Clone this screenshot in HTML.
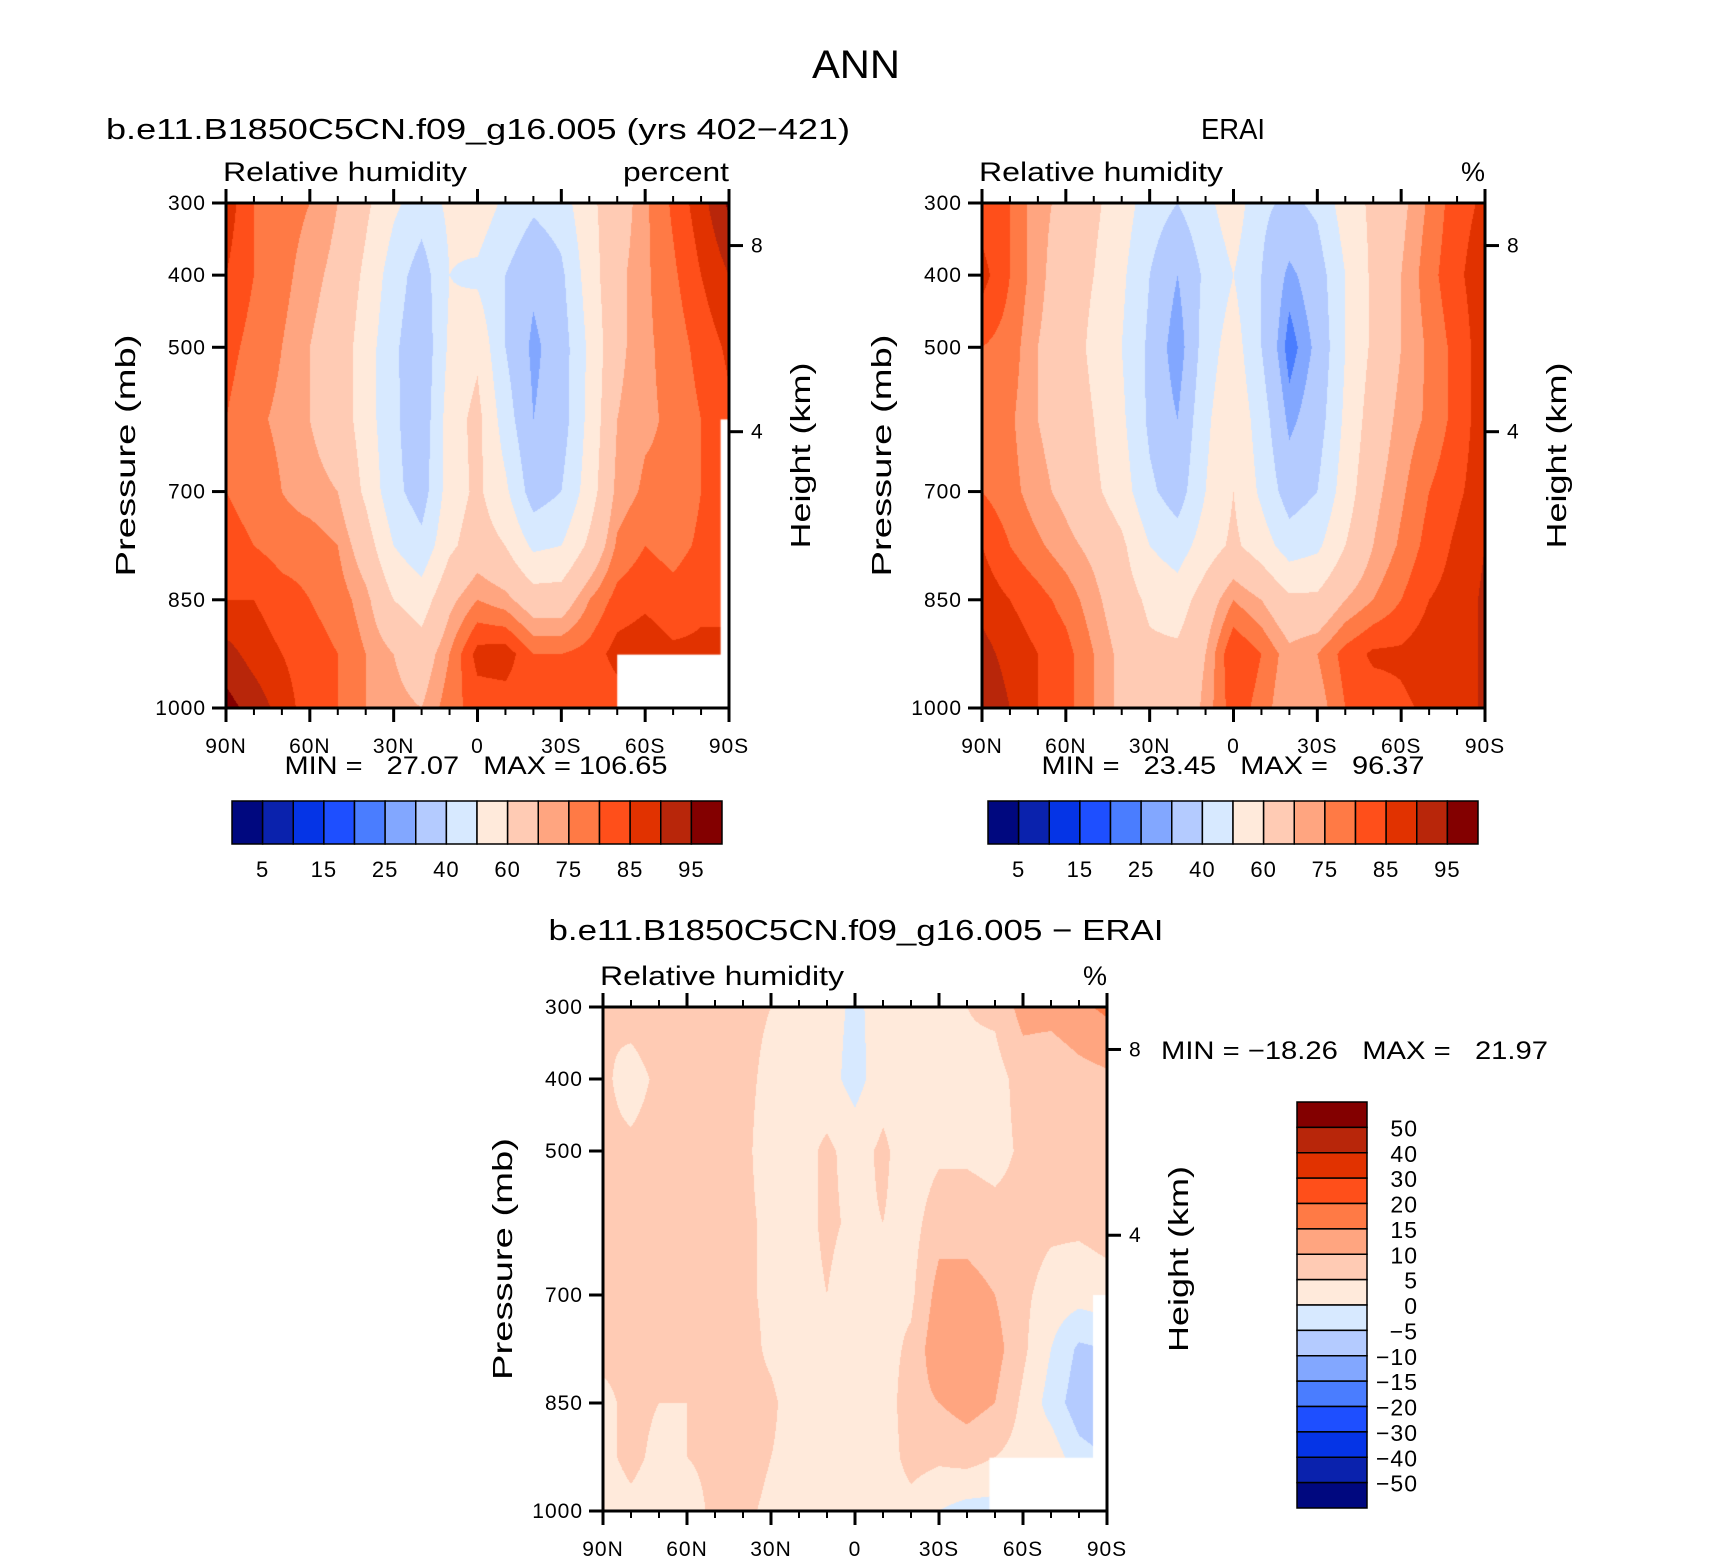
<!DOCTYPE html>
<html><head><meta charset="utf-8">
<style>
html,body{margin:0;padding:0;background:#fff;}
#wrap{position:relative;width:1710px;height:1561px;overflow:hidden;font-family:"Liberation Sans",sans-serif;}
canvas{position:absolute;}
svg{position:absolute;left:0;top:0;}
text{font-family:"Liberation Sans",sans-serif;fill:#000;}
</style></head>
<body>
<div id="wrap">
<canvas id="c1"></canvas>
<canvas id="c2"></canvas>
<canvas id="c3"></canvas>
<svg id="ov" width="1710" height="1561"></svg>
</div>
<script>
// ---- data ----
const lats = [90,80,70,60,50,40,30,20,10,0,-10,-20,-30,-40,-50,-60,-70,-80,-90];
const pressures = [300,400,500,600,700,775,850,925,1000];
const modelRH = [
[88,85,82,80,80,82,85,92,97],
[80,80,78,76,78,80,85,88,93],
[78,77,75,74,75,78,82,85,88],
[75,72,70,70,72,78,80,82,82],
[70,68,66,66,70,75,78,80,80],
[62,58,55,55,58,65,72,75,75],
[52,45,42,42,43,50,60,70,72],
[45,35,32,33,35,43,55,65,70],
[52,50,52,55,55,58,68,75,78],
[56,48,58,63,62,65,75,87,82],
[48,40,40,45,52,60,72,88,82],
[42,32,28,30,35,48,65,80,82],
[45,38,35,35,40,50,65,80,80],
[58,55,52,53,55,62,75,82,80],
[65,68,68,70,72,76,82,87,82],
[74,74,74,74,76,80,84,88,86],
[81,79,77,76,76,78,82,86,86],
[88,85,82,80,80,81,84,86,86],
[96,90,86,84,82,82,84,86,86]];
const eraiRH = [
[82,87,80,78,80,85,88,92,95],
[80,80,78,76,77,80,85,88,90],
[72,72,70,70,72,76,82,85,85],
[68,65,65,66,68,72,78,82,82],
[62,60,58,60,62,68,72,75,75],
[55,52,50,52,55,62,65,68,68],
[45,40,38,38,42,50,58,62,62],
[40,30,25,30,35,45,55,62,62],
[47,42,45,48,50,55,65,70,72],
[56,50,55,58,60,62,75,85,83],
[42,40,40,45,48,55,70,80,78],
[38,28,22,28,35,45,62,72,70],
[42,35,32,35,40,48,62,75,72],
[55,50,50,52,55,60,70,82,80],
[62,62,62,65,68,70,75,86,82],
[68,70,70,72,74,76,80,86,84],
[76,78,76,76,80,82,85,88,86],
[83,84,82,82,84,86,87,87,87],
[86,88,88,88,88,90,91,91,91]];
const diffRH = [
[5,6,6,6,6,6,4,4,3],
[7,3,6,6,6,6,6,6,4],
[8,6,7,7,6,6,5,4,3],
[8,8,8,7,6,6,5,5,3],
[7,7,7,7,7,7,6,6,6],
[6,6,6,6,6,7,7,7,6],
[5,4,3,4,4,4,6,5,4],
[3,3,3,3,3,2,2,3,2],
[2,2,6,6,5,3,2,2,2],
[-1,-2,3,4,2,2,1,1,1],
[2,3,6,5,4,3,2,2,2],
[3,2,2,3,4,6,8,7,3],
[3,3,4,8,12,14,10,6,0],
[5,4,4,8,12,14,12,7,-2],
[6,3,3,7,10,12,10,5,-2],
[12,7,6,7,6,6,4,3,3],
[12,6,7,6,3,0,-2,3,3],
[14,8,7,6,2,-6,-8,-3,-3],
[16,9,8,7,3,-5,-10,-5,-5]];
const rhLevels = [5,10,15,20,25,30,40,50,60,70,75,80,85,90,95];
const rhLabels = ["5","15","25","40","60","75","85","95"];
const diffLevels = [-50,-40,-30,-20,-15,-10,-5,0,5,10,15,20,30,40,50];
const diffLabels = ["50","40","30","20","15","10","5","0","\u22125","\u221210","\u221215","\u221220","\u221230","\u221240","\u221250"];
const colors = ["#00087f","#0a22ad","#0534e6","#1e4fff","#4a7dff","#82a7ff","#b4cbff","#d7e9ff","#ffeadb","#ffcbb4","#ffa580","#ff7a45","#ff4f1a","#e13200","#b8260a","#830000"];
const xTickLabels = ["90N","60N","30N","0","30S","60S","90S"];
const pTicks = [300,400,500,700,850,1000];
const hTicks = [8,4];
const hTickP = [359,617];
const modelMask = [[-50,-90,926,1000],[-87,-90,600,1000]];
const diffMask = [[-48,-85,926,1000],[-85,-90,700,1000]];

// ---- helpers ----
const NS="http://www.w3.org/2000/svg";
const ov=document.getElementById('ov');
function el(tag,attrs,parent){const e=document.createElementNS(NS,tag);for(const k in attrs)e.setAttribute(k,attrs[k]);(parent||ov).appendChild(e);return e;}
function txt(s,x,y,size,anchor,name,extra){const t=el('text',Object.assign({x:x,y:y,'font-size':size,'text-anchor':anchor||'start'},extra||{}));t.textContent=s;return t;}
function hex(c){return [parseInt(c.substr(1,2),16),parseInt(c.substr(3,2),16),parseInt(c.substr(5,2),16)];}
const rgb=colors.map(hex);

function drawField(id,P,field,levels,mask){
  const cv=document.getElementById(id);
  cv.style.left=P.x0+'px';cv.style.top=P.y0+'px';
  const W=P.x1-P.x0,H=P.y1-P.y0;cv.width=W;cv.height=H;
  const ctx=cv.getContext('2d');const img=ctx.createImageData(W,H);
  for(let py=0;py<H;py++){
    const p=300+(py+0.5)/H*700;
    let j=0;while(j<pressures.length-2&&p>pressures[j+1])j++;
    const tp=(p-pressures[j])/(pressures[j+1]-pressures[j]);
    for(let px=0;px<W;px++){
      const f=(px+0.5)/W*(lats.length-1);
      let i=Math.min(Math.floor(f),lats.length-2);const ti=f-i;
      const v=(1-ti)*((1-tp)*field[i][j]+tp*field[i][j+1])+ti*((1-tp)*field[i+1][j]+tp*field[i+1][j+1]);
      let k=0;while(k<levels.length&&v>=levels[k])k++;
      const c=rgb[k];const o=(py*W+px)*4;
      img.data[o]=c[0];img.data[o+1]=c[1];img.data[o+2]=c[2];img.data[o+3]=255;
    }
  }
  ctx.putImageData(img,0,0);
  ctx.fillStyle='#fff';
  (mask||[]).forEach(m=>{
    const lx=v=>(90-v)/180*W, py=v=>(v-300)/700*H;
    const a=lx(m[0]),b=lx(m[1]);ctx.fillRect(Math.min(a,b),py(m[2]),Math.abs(b-a)+1,py(m[3])-py(m[2])+1);
  });
}

function drawAxes(P,name,topLeft,topRight,trLen){
  const W=P.x1-P.x0,H=P.y1-P.y0;
  const xs=lat=>P.x0+(90-lat)/180*W;
  const ys=p=>P.y0+(p-300)/700*H;
  const g=el('g',{});
  for(let lat=90;lat>=-90;lat-=10){
    const major=lat%30===0;const L=major?14:7;const x=xs(lat);
    el('line',{x1:x,x2:x,y1:P.y1,y2:P.y1+L,stroke:'#000','stroke-width':major?3:2},g);
    el('line',{x1:x,x2:x,y1:P.y0,y2:P.y0-L,stroke:'#000','stroke-width':major?3:2},g);
  }
  xTickLabels.forEach((s,i)=>{txt(s,xs(90-i*30),P.y1+45,21,'middle','x-tick-label',{'letter-spacing':'1'})});
  pTicks.forEach(p=>{
    el('line',{x1:P.x0-14,x2:P.x0,y1:ys(p),y2:ys(p),stroke:'#000','stroke-width':3},g);
    txt(String(p),P.x0-20,ys(p)+7,21,'end','y-tick-label',{'letter-spacing':'1'});
  });
  hTicks.forEach((h,i)=>{
    const y=ys(hTickP[i]);
    el('line',{x1:P.x1,x2:P.x1+14,y1:y,y2:y,stroke:'#000','stroke-width':3},g);
    txt(String(h),P.x1+22,y+7,21,'start','right-tick-label');
  });
  el('rect',{x:P.x0,y:P.y0,width:W,height:H,fill:'none',stroke:'#000','stroke-width':3},g);
  txt(topLeft,P.x0-3,P.y0-22,27,'start','plot-variable-label',{textLength:244,lengthAdjust:'spacingAndGlyphs'});
  txt(topRight,P.x1,P.y0-22,27,'end','plot-units-label',trLen?{textLength:trLen,lengthAdjust:'spacingAndGlyphs'}:{});
  const cy=(P.y0+P.y1)/2;
  txt('Pressure (mb)',0,0,28,'middle','y-axis-title',{transform:`translate(${P.x0-91},${cy}) rotate(-90)`,textLength:242,lengthAdjust:'spacingAndGlyphs'});
  txt('Height (km)',0,0,28,'middle','right-axis-title',{transform:`translate(${P.x1+81},${cy}) rotate(-90)`,textLength:186,lengthAdjust:'spacingAndGlyphs'});
}

function hBar(x0,x1,y0,y1,levels,labels,name){
  const n=colors.length,w=(x1-x0)/n;
  colors.forEach((c,i)=>{const r=el('rect',{x:x0+i*w,y:y0,width:w,height:y1-y0,fill:c,stroke:'#000','stroke-width':1.5});});
  labels.forEach((s,i)=>txt(s,x0+(2*i+1)*w,y1+33,22,'middle',name+'-label',{'letter-spacing':'1'}));
}
function vBar(x0,x1,y0,y1,labels,name){
  const n=colors.length,h=(y1-y0)/n;
  colors.slice().reverse().forEach((c,i)=>{const r=el('rect',{x:x0,y:y0+i*h,width:x1-x0,height:h,fill:c,stroke:'#000','stroke-width':1.5});});
  labels.forEach((s,i)=>txt(s,x1+51,y0+(i+1)*h+9,23,'end',name+'-label',{'letter-spacing':'1'}));
}

const P1={x0:226,x1:729,y0:203,y1:708};
const P2={x0:982,x1:1485,y0:203,y1:708};
const P3={x0:603,x1:1107,y0:1007,y1:1511};
drawField('c1',P1,modelRH,rhLevels,modelMask);
drawField('c2',P2,eraiRH,rhLevels,[]);
drawField('c3',P3,diffRH,diffLevels,diffMask);

txt('ANN',856,78,40,'middle','figure-title',{textLength:88,lengthAdjust:'spacingAndGlyphs'});
txt('b.e11.B1850C5CN.f09_g16.005 (yrs 402\u2212421)',106,139,29,'start','model-panel-title',{textLength:744,lengthAdjust:'spacingAndGlyphs'});
txt('ERAI',1233,139,29,'middle','erai-panel-title',{textLength:64,lengthAdjust:'spacingAndGlyphs'});
txt('b.e11.B1850C5CN.f09_g16.005 \u2212 ERAI',856,940,29,'middle','difference-panel-title',{textLength:615,lengthAdjust:'spacingAndGlyphs'});
drawAxes(P1,'model','Relative humidity','percent',106);
drawAxes(P2,'erai','Relative humidity','%',0);
drawAxes(P3,'difference','Relative humidity','%',0);
txt('MIN =   27.07   MAX = 106.65',476,774,25,'middle','model-min-max',{'style':'white-space:pre',textLength:383,lengthAdjust:'spacingAndGlyphs'});
txt('MIN =   23.45   MAX =   96.37',1233,774,25,'middle','erai-min-max',{'style':'white-space:pre',textLength:383,lengthAdjust:'spacingAndGlyphs'});
txt('MIN = \u221218.26   MAX =   21.97',1161,1059,25,'start','difference-min-max',{'style':'white-space:pre',textLength:387,lengthAdjust:'spacingAndGlyphs'});
hBar(232,722,801,844,rhLevels,rhLabels,'model-colorbar');
hBar(988,1478,801,844,rhLevels,rhLabels,'erai-colorbar');
vBar(1297,1367,1102,1508,diffLabels,'difference-colorbar');
</script>
</body></html>
